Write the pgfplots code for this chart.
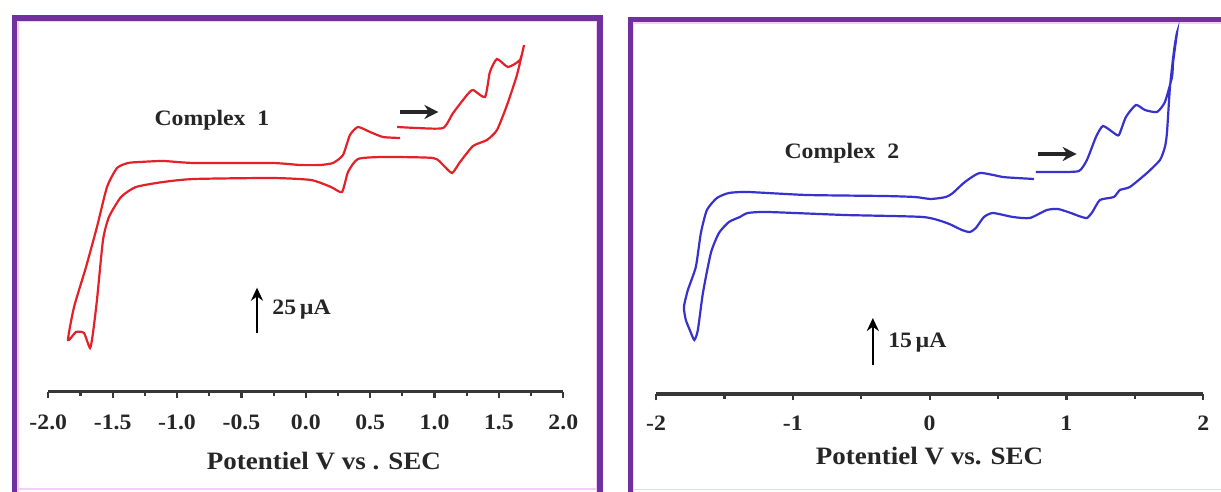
\documentclass[border=0pt]{standalone}
\usepackage{pgfplots}
\pgfplotsset{compat=1.18}
\usetikzlibrary{arrows.meta}
\usepackage{fontspec}
\setmainfont{Liberation Serif}[FakeStretch=1.08]
\definecolor{framepurple}{RGB}{112,48,160}
\definecolor{pinkedge}{RGB}{242,208,246}
\definecolor{cvred}{RGB}{228,32,40}
\definecolor{cvblue}{RGB}{55,50,205}
\definecolor{axgray}{RGB}{55,55,55}

\pgfplotsset{cvaxis/.style={
  axis x line=bottom, axis y line=none,
  x axis line style={-, line width=1.7pt, color=axgray},
  xmin=-2, xmax=2, ymin=0, ymax=380, y=0.5pt,
  tick align=outside,
  major tick length=3.2pt, minor tick length=2.4pt,
  tick style={line width=1.1pt, color=axgray},
  xticklabel style={font=\bfseries\fontsize{11}{12}\selectfont, anchor=center, text=black!85},
  xlabel style={font=\bfseries\fontsize{12.5}{14}\selectfont, anchor=center, text=black!85},
  clip=false, anchor=south west,
}}

\begin{document}
\begin{tikzpicture}
\begin{scope}
\clip (0,0) rectangle (610.5pt,246pt);
% frames
\fill[white] (0,0) rectangle (610.5pt,246pt);
\draw[pinkedge, line width=0.8pt] (8.9pt,-3pt) -- (8.9pt,235.3pt) -- (298.4pt,235.3pt) -- (298.4pt,-3pt);
\draw[pinkedge, line width=0.8pt] (8.9pt,1.4pt) -- (298.4pt,1.4pt);
\draw[framepurple, line width=2.6pt] (7.25pt,-5pt) -- (7.25pt,237pt) -- (300pt,237pt) -- (300pt,-5pt);
\draw[pinkedge, line width=0.8pt] (316.8pt,-3pt) -- (316.8pt,234.6pt) -- (615pt,234.6pt);
\draw[pinkedge, line width=0.8pt] (316.8pt,1.2pt) -- (615pt,1.2pt);
\draw[framepurple, line width=2.6pt] (315.15pt,-5pt) -- (315.15pt,236.25pt) -- (620pt,236.25pt);

% panel 1
\begin{axis}[cvaxis,
  at={(24.15pt,50.15pt)}, x=64.375pt,
  xtick={-2,-1.5,-1,-0.5,0,0.5,1,1.5,2},
  xticklabels={-2.0,-1.5,-1.0,-0.5,0.0,0.5,1.0,1.5,2.0},
  xticklabel style={yshift=-11.9pt},
  minor x tick num=1,
  xlabel={Potentiel V vs . SEC},
  xlabel style={at={(axis description cs:0.535,0)}, yshift=-34.6pt},
]
\addplot[cvred, line width=1.1pt, smooth, tension=0.35] coordinates {
(0.732,253.7)(0.600,254.7)(0.499,259.7)(0.405,264.7)(0.343,256.7)(0.289,236.7)
(0.211,228.7)(0.110,226.7)(-0.045,226.7)(-0.263,228.7)(-0.868,228.7)(-1.108,230.7)
(-1.288,229.7)(-1.381,228.7)(-1.466,223.7)(-1.544,204.7)(-1.622,164.7)(-1.707,124.7)
(-1.800,84.7)(-1.847,51.7)(-1.785,59.7)(-1.723,58.7)(-1.676,43.7)(-1.653,58.7)
(-1.622,91.7)(-1.575,151.7)(-1.529,174.7)(-1.435,194.7)(-1.319,204.7)(-1.108,209.7)
(-0.868,212.7)(-0.263,213.7)(0.040,211.7)(0.196,204.7)(0.281,199.7)(0.328,219.7)
(0.405,232.7)(0.600,234.7)(0.988,233.7)(1.066,226.7)(1.136,218.7)(1.198,229.7)
(1.299,245.7)(1.407,251.7)(1.485,261.7)(1.563,286.7)(1.640,316.7)(1.695,346.7)
(1.663,331.7)(1.570,324.7)(1.485,332.7)(1.430,319.7)(1.392,294.7)(1.299,301.7)
(1.252,296.7)(1.144,278.7)(1.066,263.7)(0.864,263.7)(0.709,264.7)
};
\node[font=\bfseries\fontsize{11}{12}\selectfont, text=black!85] at (axis cs:-0.729,271.7) {Complex\ \ 1};
\draw[-{Stealth[length=7pt,width=7pt]}, line width=1.6pt, black!85] (axis cs:0.732,279.7) -- (axis cs:1.03,279.7);
\draw[-{Stealth[length=6.5pt,width=6pt]}, line width=1.3pt, black] (axis cs:-0.379,59) -- (axis cs:-0.379,104);
\node[anchor=west, inner sep=0pt, font=\bfseries\fontsize{11}{12}\selectfont, text=black!85] at (axis cs:-0.262,81.7) {25\,µA};
\end{axis}

% panel 2
\begin{axis}[cvaxis,
  at={(328pt,49pt)}, x=68.4pt,
  xtick={-2,-1,0,1,2},
  xticklabels={-2,-1,0,1,2},
  xticklabel style={yshift=-11.2pt},
  minor x tick num=1,
  xlabel={Potentiel V vs. SEC},
  xlabel style={at={(axis description cs:0.5,0)}, yshift=-31pt},
]
\addplot[cvblue, line width=1.1pt, smooth, tension=0.35] coordinates {
(0.762,215)(0.638,216)(0.536,217)(0.368,221)(0.258,212)(0.170,201)(0.119,197)
(0.009,195)(-0.108,197)(-0.335,198)(-0.897,199)(-1.329,202)(-1.467,201)(-1.555,196)
(-1.628,184)(-1.672,161)(-1.709,127)(-1.767,104)(-1.796,87)(-1.782,74)(-1.753,64)
(-1.720,54)(-1.694,64)(-1.657,101)(-1.599,141)(-1.540,161)(-1.467,172)(-1.387,177)
(-1.329,181)(-1.183,182)(-0.620,179)(-0.049,177)(0.126,171)(0.236,164)(0.294,162)
(0.338,166)(0.397,177)(0.463,181)(0.609,177)(0.733,176)(0.857,184)(0.938,185)
(1.033,181)(1.090,178)(1.150,176)(1.190,182)(1.245,194)(1.347,197)(1.391,204)
(1.464,207)(1.589,221)(1.684,234)(1.720,247)(1.735,261)(1.757,307)(1.787,344)
(1.809,362)(1.780,332)(1.772,317)(1.720,292)(1.662,282)(1.574,284)(1.508,289)
(1.435,277)(1.384,259)(1.347,261)(1.267,268)(1.216,257)(1.150,234)(1.092,223)
(0.953,222)(0.777,222)
};
\node[font=\bfseries\fontsize{11}{12}\selectfont, text=black!85] at (axis cs:-0.641,241) {Complex\ \ 2};
\draw[-{Stealth[length=7pt,width=7pt]}, line width=1.6pt, black!85] (axis cs:0.792,240) -- (axis cs:1.075,240);
\draw[-{Stealth[length=6.5pt,width=6pt]}, line width=1.3pt, black] (axis cs:-0.415,29) -- (axis cs:-0.415,76);
\node[anchor=west, inner sep=0pt, font=\bfseries\fontsize{11}{12}\selectfont, text=black!85] at (axis cs:-0.305,51) {15\,µA};
\end{axis}
\end{scope}
\pgfresetboundingbox
\path[use as bounding box] (0,0) rectangle (610.5pt,246pt);
\end{tikzpicture}
\end{document}
